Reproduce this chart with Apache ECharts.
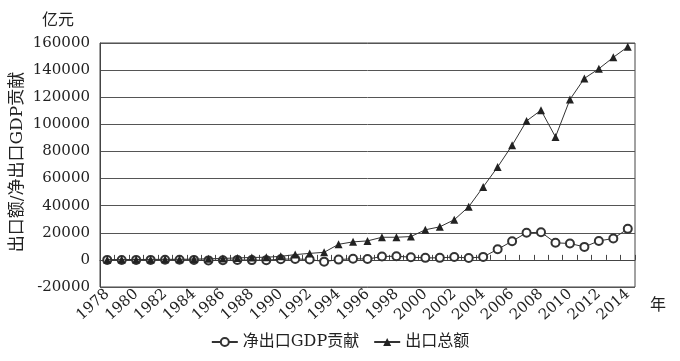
<!DOCTYPE html>
<html>
<head>
<meta charset="utf-8">
<script src="https://cdn.jsdelivr.net/npm/echarts@6/dist/echarts.min.js"></script>
<style>
html,body{margin:0;padding:0;background:#fff;}
#main{width:680px;height:361px;}
</style>
</head>
<body>
<div id="main"></div>
<script>
const years = ['1978','1979','1980','1981','1982','1983','1984','1985','1986','1987','1988','1989','1990','1991','1992','1993','1994','1995','1996','1997','1998','1999','2000','2001','2002','2003','2004','2005','2006','2007','2008','2009','2010','2011','2012','2013','2014'];
const netExport = [-10,-20,-15,0,90,50,0,-370,-260,10,-150,-190,500,700,300,-1300,200,900,600,2500,2700,2000,1500,1500,2100,1400,2200,7800,13800,20000,20400,12600,12100,9600,14000,15800,22900];
const exportTotal = [170,210,270,370,410,440,580,810,1080,1470,1770,1960,2600,3900,4800,5600,11500,13300,14000,16700,16700,17200,22200,24400,29600,39200,53800,68500,84500,102500,110400,90700,118300,133900,141000,149400,157200];
const seriesNames = ['净出口GDP贡献','出口总额'];
const yMin = -20000, yMax = 160000, yStep = 20000;

const FONT = 'DejaVu Serif, "Noto Sans CJK SC", serif';
const chart = echarts.init(document.getElementById('main'));
chart.setOption({
  backgroundColor: '#fff',
  animation: false,
  grid: {left: 100, right: 45, top: 43, bottom: 74, show: true, borderColor: '#444', borderWidth: 1},
  legend: {
    data: seriesNames,
    bottom: 6,
    left: 'center',
    itemWidth: 26,
    itemHeight: 10,
    itemGap: 14,
    textStyle: {fontFamily: FONT, fontSize: 16, color: '#222'}
  },
  xAxis: [{
    type: 'category',
    data: years,
    boundaryGap: true,
    axisLine: {show: true, onZero: true, lineStyle: {color: '#444', width: 1}},
    axisTick: {show: true, inside: true, length: 5, interval: 0, lineStyle: {color: '#444'}},
    axisLabel: {show: false},
    splitLine: {show: false}
  }, {
    type: 'category',
    data: years,
    position: 'bottom',
    boundaryGap: true,
    axisLine: {show: false, onZero: false},
    axisTick: {show: false},
    axisLabel: {show: true, rotate: 42, interval: 1, margin: 5, fontFamily: FONT, fontSize: 15, color: '#222'},
    splitLine: {show: false}
  }],
  yAxis: {
    type: 'value',
    min: yMin, max: yMax, interval: yStep,
    axisLine: {show: true, lineStyle: {color: '#444'}},
    axisTick: {show: false},
    axisLabel: {margin: 10, fontFamily: FONT, fontSize: 15, color: '#222', formatter: v => String(v)},
    splitLine: {show: true, lineStyle: {color: '#555', width: 1}}
  },
  graphic: [
    {type: 'text', left: 42, top: 11, style: {text: '亿元', font: '16px "Noto Sans CJK SC", serif', fill: '#222'}},
    {type: 'text', left: 650, top: 296, style: {text: '年', font: '16px "Noto Sans CJK SC", serif', fill: '#222'}},
    {type: 'text', x: 18, y: 162, rotation: Math.PI / 2,
     style: {text: '出口额/净出口GDP贡献', font: '17px DejaVu Serif, "Noto Sans CJK SC", serif', fill: '#222', align: 'center', verticalAlign: 'middle'}}
  ],
  series: [{
    name: seriesNames[0],
    type: 'line',
    data: netExport,
    xAxisIndex: 0,
    symbol: 'emptyCircle',
    symbolSize: 8,
    color: '#333',
    lineStyle: {color: '#333', width: 1},
    itemStyle: {color: '#333', borderColor: '#333', borderWidth: 1},
    z: 2
  }, {
    name: seriesNames[1],
    type: 'line',
    data: exportTotal,
    xAxisIndex: 0,
    symbol: 'triangle',
    symbolSize: 8,
    color: '#222',
    lineStyle: {color: '#333', width: 1},
    itemStyle: {color: '#222'},
    z: 3
  }]
});
</script>
</body>
</html>
